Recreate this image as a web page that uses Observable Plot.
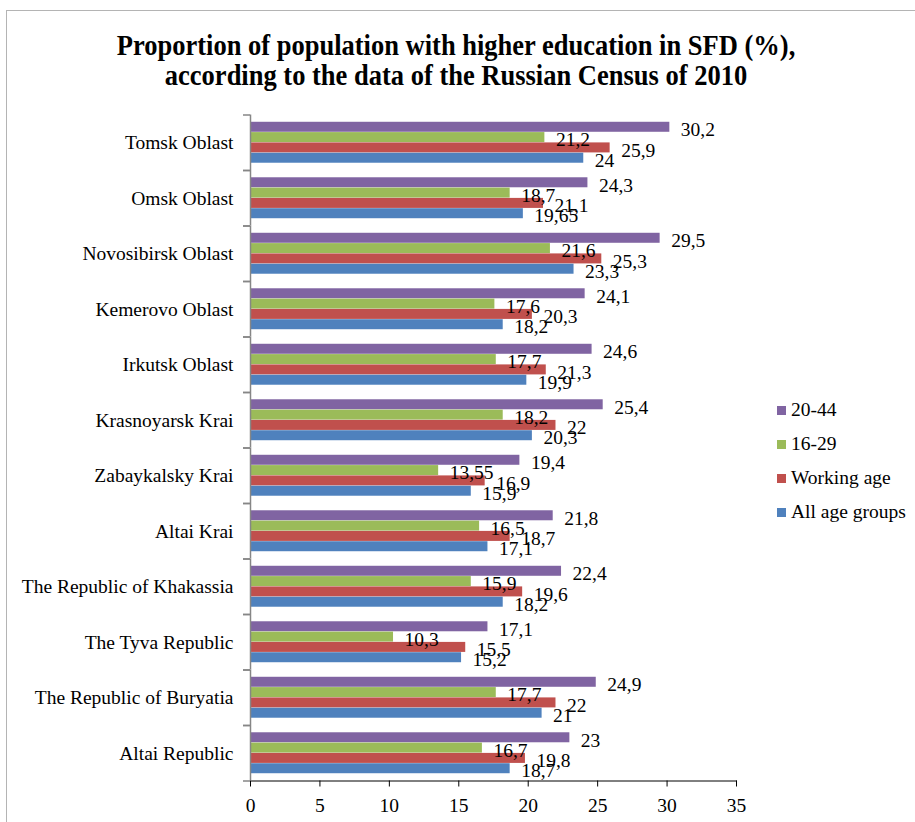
<!DOCTYPE html>
<html>
<head>
<meta charset="utf-8">
<script src="https://cdn.jsdelivr.net/npm/d3@7"></script>
<script src="https://cdn.jsdelivr.net/npm/@observablehq/plot@0.6"></script>
<style>
  html, body { margin: 0; padding: 0; background: #fff; overflow: hidden; }
  #wrap { position: relative; width: 915px; height: 822px; overflow: hidden; font-family: "Liberation Serif", "Times New Roman", serif; }
  #frame { position: absolute; left: 6px; top: 10px; width: 1000px; height: 900px; border: 1px solid #b4b4b4; box-sizing: border-box; pointer-events: none; z-index: 3; }
  #title { position: absolute; left: 0; top: 30px; width: 912px; text-align: center; font-weight: bold; font-size: 26.5px; line-height: 27px; color: #000; z-index: 2; transform: scaleY(1.13); transform-origin: 50% 0; }
  #chart { position: absolute; left: 0; top: 0; z-index: 1; }
  #legend { position: absolute; left: 777px; top: 397px; z-index: 2; font-size: 19.5px; color: #000; }
  .li { position: relative; height: 34px; line-height: 26px; white-space: nowrap; }
  .sw { display: inline-block; width: 9px; height: 9px; margin-right: 5px; vertical-align: 1px; }
  #chart svg text { font-family: "Liberation Serif", "Times New Roman", serif !important; }
  #chart svg g[aria-label="x-axis"] text { font-size: 20px; fill: #000; }
  #chart svg g[aria-label="fy-axis"] text { font-size: 19.5px; fill: #000; }
  #chart svg g[aria-label="x-axis"] path, #chart svg g[aria-label="x-axis"] line { stroke: #868686; }
  #chart svg g[aria-label="x-axis"] path.domain { stroke-width: 1.5px; }
</style>
</head>
<body>
<div id="wrap">
  <div id="frame"></div>
  <div id="title">Proportion of population with higher education in SFD (%),<br>according to the data of the Russian Census of 2010</div>
  <div id="chart"></div>
  <div id="legend"></div>
</div>
<script>
// Categories (top to bottom)
const regions = [
  "Tomsk Oblast",
  "Omsk Oblast",
  "Novosibirsk Oblast",
  "Kemerovo Oblast",
  "Irkutsk Oblast",
  "Krasnoyarsk Krai",
  "Zabaykalsky Krai",
  "Altai Krai",
  "The Republic of Khakassia",
  "The Tyva Republic",
  "The Republic of Buryatia",
  "Altai Republic"
];

// Series (order within each group, top to bottom)
const seriesNames = ["20-44", "16-29", "Working age", "All age groups"];
const seriesColors = ["#8064A2", "#9BBB59", "#C0504D", "#4F81BD"];

// Values per series, in the order of `regions`
const values2044 = [30.2, 24.3, 29.5, 24.1, 24.6, 25.4, 19.4, 21.8, 22.4, 17.1, 24.9, 23];
const values1629 = [21.2, 18.7, 21.6, 17.6, 17.7, 18.2, 13.55, 16.5, 15.9, 10.3, 17.7, 16.7];
const valuesWorking = [25.9, 21.1, 25.3, 20.3, 21.3, 22, 16.9, 18.7, 19.6, 15.5, 22, 19.8];
const valuesAll = [24, 19.65, 23.3, 18.2, 19.9, 20.3, 15.9, 17.1, 18.2, 15.2, 21, 18.7];

// X axis ticks
const xTicks = [0, 5, 10, 15, 20, 25, 30, 35];

const seriesValues = [values2044, values1629, valuesWorking, valuesAll];
const rows = [];
regions.forEach((r, i) => {
  seriesNames.forEach((s, k) => {
    rows.push({region: r, series: s, value: seriesValues[k][i]});
  });
});

const fmt = v => String(v).replace(".", ",");

// layout constants
const W = 915, H = 822, mT = 114.5, mB = 41.5, mL = 250, mR = 179;
const padInner = 0.03, padOuter = 0.705;
const facetH = (H - mT - mB) / regions.length;
const step = facetH / (seriesNames.length - padInner + 2 * padOuter);
const bw = step * (1 - padInner);
const edgeOffset = step * padOuter + bw / 2; // from first/last band centre to facet edge

const chart = Plot.plot({
  width: W,
  height: H,
  marginTop: mT,
  marginBottom: mB,
  marginLeft: mL,
  marginRight: mR,
  style: {background: "none", fontFamily: "'Liberation Serif', 'Times New Roman', serif", fontSize: "19.5px", color: "#000"},
  facet: {data: rows, y: "region"},
  fy: {domain: regions, padding: 0, round: false, axis: "left", tickSize: 0, tickPadding: 17, label: null},
  y: {domain: seriesNames, paddingInner: padInner, paddingOuter: padOuter, round: false, axis: null},
  x: {domain: [0, 35], ticks: xTicks, tickSize: 6, tickPadding: 11, line: true, label: null},
  color: {domain: seriesNames, range: seriesColors},
  marks: [
    Plot.barX(rows, {x: "value", y: "series", fill: "series"}),
    Plot.ruleX([0], {stroke: "#868686", strokeWidth: 1.5}),
    Plot.ruleY([seriesNames[0]], {y: d => d, x1: 0, x2: 0, insetLeft: -7, dy: -edgeOffset, stroke: "#868686", strokeWidth: 1.5}),
    Plot.ruleY([seriesNames[seriesNames.length - 1]], {y: d => d, x1: 0, x2: 0, insetLeft: -7, dy: edgeOffset, stroke: "#868686", strokeWidth: 1.5}),
    Plot.text(rows, {x: "value", y: "series", text: d => fmt(d.value), dx: 11, dy: 2.5, textAnchor: "start", fill: "#000", fontSize: 19.5})
  ]
});
document.getElementById("chart").appendChild(chart);

// Legend
const legend = document.getElementById("legend");
seriesNames.forEach((s, k) => {
  const row = document.createElement("div");
  row.className = "li";
  const sw = document.createElement("span");
  sw.className = "sw";
  sw.style.background = seriesColors[k];
  row.appendChild(sw);
  row.appendChild(document.createTextNode(s));
  legend.appendChild(row);
});
</script>
</body>
</html>
